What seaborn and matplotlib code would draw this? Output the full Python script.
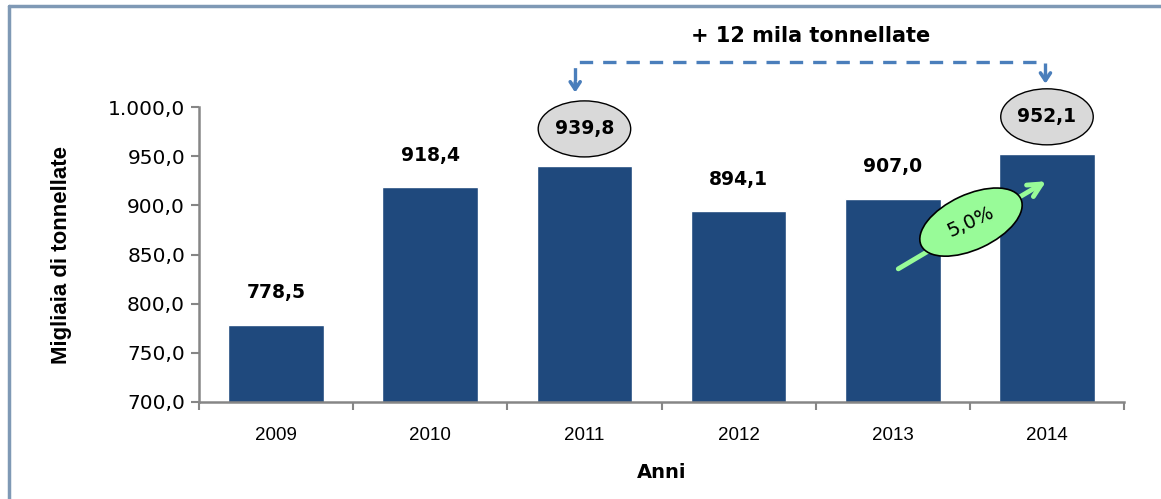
import matplotlib
matplotlib.use("Agg")
import matplotlib.pyplot as plt
import matplotlib.transforms as mtransforms
import seaborn as sns
import pandas as pd
import numpy as np
from matplotlib.patches import Ellipse
from matplotlib.lines import Line2D
from matplotlib.ticker import FuncFormatter, FixedLocator

years = ["2009", "2010", "2011", "2012", "2013", "2014"]
values = [778.5, 918.4, 939.8, 894.1, 907.0, 952.1]
value_labels = ["778,5", "918,4", "939,8", "894,1", "907,0", "952,1"]
highlighted = ["2011", "2014"]
delta_text = "+ 12 mila tonnellate"
growth_text = "5,0%"
ylabel = "Migliaia di tonnellate"
xlabel = "Anni"

sns.set_theme(style="white")
plt.rcParams["font.family"] = ["DejaVu Sans"]
plt.rcParams["text.color"] = "black"
plt.rcParams["axes.labelcolor"] = "black"
plt.rcParams["xtick.color"] = "black"
plt.rcParams["ytick.color"] = "black"

df = pd.DataFrame({"anno": years, "valore": values})

fig = plt.figure(figsize=(11.61, 4.99), dpi=100)
ax = fig.add_axes([0.1714, 0.1944, 0.7968, 0.591])

sns.barplot(data=df, x="anno", y="valore", color="#1F497D", width=0.62,
            saturation=1, ax=ax)
ax.set_ylim(700, 1000)
ax.set_xlim(-0.5, 5.5)

def it_fmt(v, pos):
    s = f"{v:,.1f}"
    return s.replace(",", "X").replace(".", ",").replace("X", ".")

ax.yaxis.set_major_locator(FixedLocator(np.arange(700, 1001, 50)))
ax.yaxis.set_major_formatter(FuncFormatter(it_fmt))

narrow = ["Liberation Sans Narrow", "Liberation Sans", "DejaVu Sans"]
for lab in ax.get_yticklabels():
    lab.set_fontfamily("DejaVu Sans")
    lab.set_fontsize(14.5)
for lab in ax.get_xticklabels():
    lab.set_fontfamily(narrow)
    lab.set_fontsize(13.5)

# x ticks at category boundaries
ax.set_xticks(np.arange(-0.5, 6, 1), minor=True)
ax.tick_params(axis="x", which="major", length=0, pad=18, labelcolor="black")
ax.tick_params(axis="x", which="minor", length=6, width=1.5, color="#868686",
               direction="out", bottom=True)
ax.tick_params(axis="y", which="major", length=6, width=1.5, color="#868686",
               direction="out", left=True, pad=4, labelcolor="black")

for s in ["top", "right"]:
    ax.spines[s].set_visible(False)
for s in ["left", "bottom"]:
    ax.spines[s].set_color("#868686")
    ax.spines[s].set_linewidth(1.8)

ax.set_ylabel(ylabel, fontfamily=narrow, fontsize=16, fontweight="bold",
              labelpad=26, color="black")
ax.set_xlabel(xlabel, fontsize=14, fontweight="bold", labelpad=14, color="black")

# value labels
for i, (y, v, lab) in enumerate(zip(years, values, value_labels)):
    if y in highlighted:
        cy = v + 38
        ell = Ellipse((i, cy), width=0.6, height=57, facecolor="#D9D9D9",
                      edgecolor="black", linewidth=1.0, clip_on=False, zorder=4)
        ax.add_patch(ell)
        ax.text(i, cy, lab, ha="center", va="center", fontsize=13.5,
                fontweight="bold", zorder=5, clip_on=False, color="black")
    else:
        ax.annotate(lab, xy=(i, v), xytext=(0, 23), textcoords="offset points",
                    ha="center", va="center", fontsize=13.5, fontweight="bold",
                    color="black")

# dashed bracket between 2011 and 2014
i1 = years.index("2011") - 0.06
i2 = years.index("2014") - 0.01
top_y = 1046
col = "#4A7EBB"
ax.plot([i1, i1, i2, i2], [1027, top_y, top_y, 1035], color=col, lw=2.4,
        ls=(0, (4, 3)), clip_on=False, zorder=3)
for xi, yend in [(i1, 1012), (i2, 1021)]:
    ax.annotate("", xy=(xi, yend), xytext=(xi, yend + 16),
                arrowprops=dict(arrowstyle="->,head_width=0.3,head_length=0.45",
                                color=col, lw=2.6), annotation_clip=False)
ax.text(3.47, 1072, delta_text, ha="center", va="center",
        fontsize=15, fontweight="bold", clip_on=False, color="black")

# growth arrow
ax.annotate("", xy=(5.01, 926), xytext=(4.02, 834),
            arrowprops=dict(arrowstyle="->,head_width=0.4,head_length=0.8",
                            color="#98FB98", lw=3.5), zorder=5)
gx, gy = 4.507, 883
gtrans = fig.dpi_scale_trans + mtransforms.ScaledTranslation(gx, gy, ax.transData)
gell = Ellipse((0, 0), width=1.10, height=0.55, angle=25, transform=gtrans,
               facecolor="#98FB98", edgecolor="black", linewidth=1.2, zorder=6)
ax.add_patch(gell)
ax.text(gx, gy, growth_text, rotation=25, ha="center", va="center",
        fontsize=14, zorder=7, color="black")

# outer frame (left and top lines)
fig.add_artist(Line2D([0.0075, 0.0075], [0.0, 0.987], transform=fig.transFigure,
                      color="#7F99B5", lw=2.5))
fig.add_artist(Line2D([0.0075, 1.0], [0.987, 0.987], transform=fig.transFigure,
                      color="#7F99B5", lw=2.5))

fig.savefig("out.png", dpi=100)
